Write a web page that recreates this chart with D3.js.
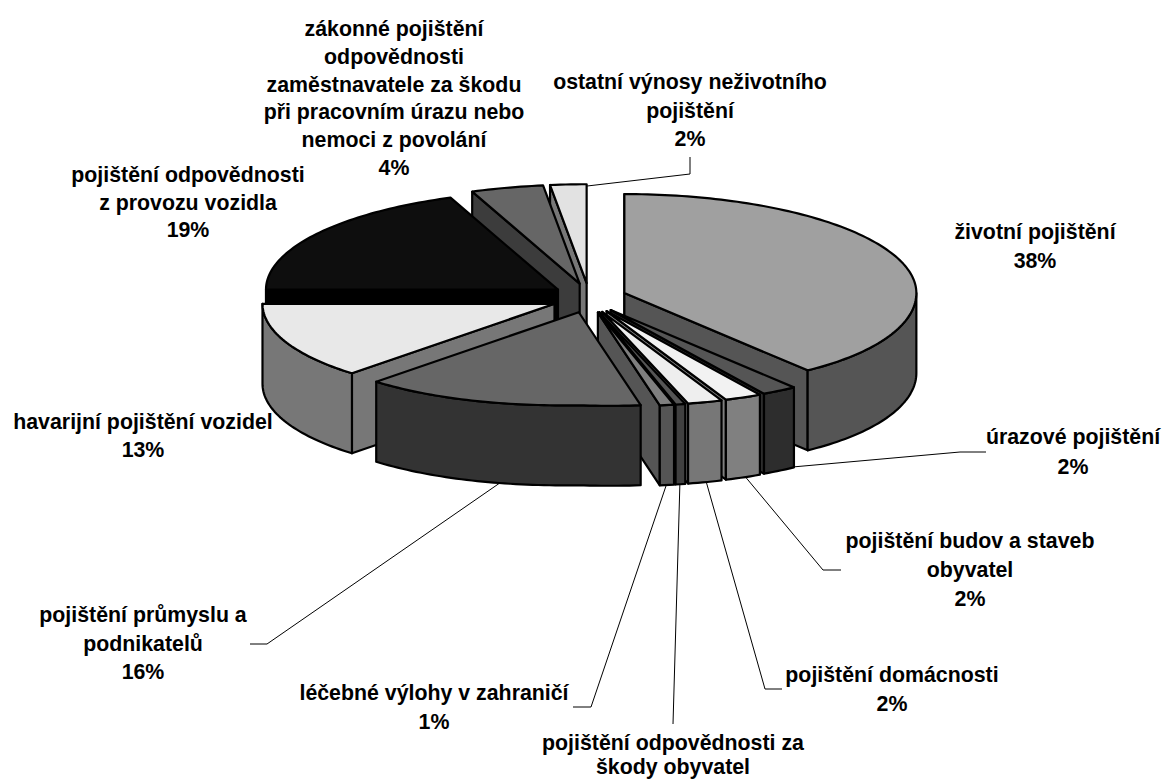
<!DOCTYPE html>
<html><head><meta charset="utf-8">
<script src="https://cdn.jsdelivr.net/npm/d3@7"></script>
<style>html,body{margin:0;padding:0;background:#fff}svg{display:block}
text{font-family:"Liberation Sans",Arial,sans-serif;font-weight:bold;font-size:21.33px;fill:#000}</style>
</head><body><svg id="c" width="1163" height="779"></svg>
<script>
const categories = ["životní pojištění","úrazové pojištění","pojištění budov a staveb obyvatel","pojištění domácnosti","pojištění odpovědnosti za škody obyvatel","léčebné výlohy v zahraničí","pojištění průmyslu a podnikatelů","havarijní pojištění vozidel","pojištění odpovědnosti z provozu vozidla","zákonné pojištění odpovědnosti zaměstnavatele za škodu při pracovním úrazu nebo nemoci z povolání","ostatní výnosy neživotního pojištění"];
const shares = [39.2,2.0,2.1,1.95,0.55,0.8,15.6,12.8,19,4,2];
const topColors = ["#a0a0a0","#555555","#f2f2f2","#eeeeee","#555555","#7f7f7f","#666666","#e8e8e8","#0e0e0e","#666666","#e2e2e2"];
const wallColors = ["#555555","#2d2d2d","#808080","#777777","#404040","#555555","#333333","#777777","#000000","#3c3c3c","#777777"];
const labelLines = [
 ["životní pojištění","38%"],
 ["úrazové pojištění","2%"],
 ["pojištění budov a staveb","obyvatel","2%"],
 ["pojištění domácnosti","2%"],
 ["pojištění odpovědnosti za","škody obyvatel"],
 ["léčebné výlohy v zahraničí","1%"],
 ["pojištění průmyslu a","podnikatelů","16%"],
 ["havarijní pojištění vozidel","13%"],
 ["pojištění odpovědnosti","z provozu vozidla","19%"],
 ["zákonné pojištění","odpovědnosti","zaměstnavatele za škodu","při pracovním úrazu nebo","nemoci z povolání","4%"],
 ["ostatní výnosy neživotního","pojištění","2%"]
];
// layout (label anchor: centre x, first baseline, line step)
const labelLayout = [[1035,239,29],[1073,444,30],[970,548,29],[892,682,29],[673,750,23.5],[434,700,29],[143,622,28.5],[143,429,28],[188,182,27.5],[394,36,27.8],[690,89,28.5]];
const leaders = [null,
 [[770,469],[960,452],[986,452]],
 [[738,468],[823,570],[841,570]],
 [[704,474],[765,689],[782,689]],
 [[680,480],[673,724]],
 [[668,480],[591,707],[573,707]],
 [[507,478],[267,644],[250,644]],
 null,null,null,
 [[570,188],[690,174],[690,157]]
];
const cx=589, cy=298, rx=292, ryBack=99, ryFront=93, ex=37.5, ey=14.8, depth=80;
const svg=d3.select("#c");
const arcs=d3.pie().sort(null).value(d=>d).startAngle(0).endAngle(2*Math.PI)(shares);
const line=d3.line();
const H=Math.PI/2;
function pt(o,a,d=0){const c=Math.cos(a),s=Math.sin(a);
 const y=c>0?-ryBack*c:ryFront*-c+(s>0?5:2.5)*Math.abs(Math.sin(2*a));
 return [o[0]+rx*s,o[1]+y+d];}
function samples(a,b){const n=Math.max(2,Math.ceil((b-a)/0.02));return d3.range(n+1).map(i=>a+(b-a)*i/n);}
const drawOrder=[10,9,8,7,0,1,2,3,4,5,6];
// leaders beneath the pie
const leadG=svg.append("g");
leaders.forEach(l=>{if(l)leadG.append("path").attr("d",line(l)).attr("fill","none").attr("stroke","#000").attr("stroke-width",1);});
const pieG=svg.append("g").attr("stroke","#000").attr("stroke-width",2.2).attr("stroke-linejoin","round");
drawOrder.forEach(i=>{
 const s=arcs[i], mid=(s.startAngle+s.endAngle)/2;
 const o=[cx+ex*Math.sin(mid),cy-ey*Math.cos(mid)];
 const g=pieG.append("g");
 const radial=a=>{const e=pt(o,a);g.append("path").attr("fill",wallColors[i]).attr("d",line([o,e,[e[0],e[1]+depth],[o[0],o[1]+depth]])+"Z");};
 if(Math.sin(s.startAngle)<1e-6) radial(s.startAngle);
 if(Math.sin(s.endAngle)>1e-6) radial(s.endAngle);
 const a0=Math.max(s.startAngle,H), a1=Math.min(s.endAngle,3*H);
 if(a1>a0){const t=samples(a0,a1);
  g.append("path").attr("fill",wallColors[i]).attr("d",line(t.map(a=>pt(o,a)).concat(t.slice().reverse().map(a=>pt(o,a,depth))))+"Z");}
 g.append("path").attr("fill",topColors[i]).attr("d",line([o].concat(samples(s.startAngle,s.endAngle).map(a=>pt(o,a))))+"Z");
});
const textG=svg.append("g").attr("text-anchor","middle");
labelLines.forEach((ls,i)=>{const [x,y,st]=labelLayout[i];ls.forEach((t,k)=>textG.append("text").attr("x",x).attr("y",y+k*st).text(t));});
</script></body></html>
